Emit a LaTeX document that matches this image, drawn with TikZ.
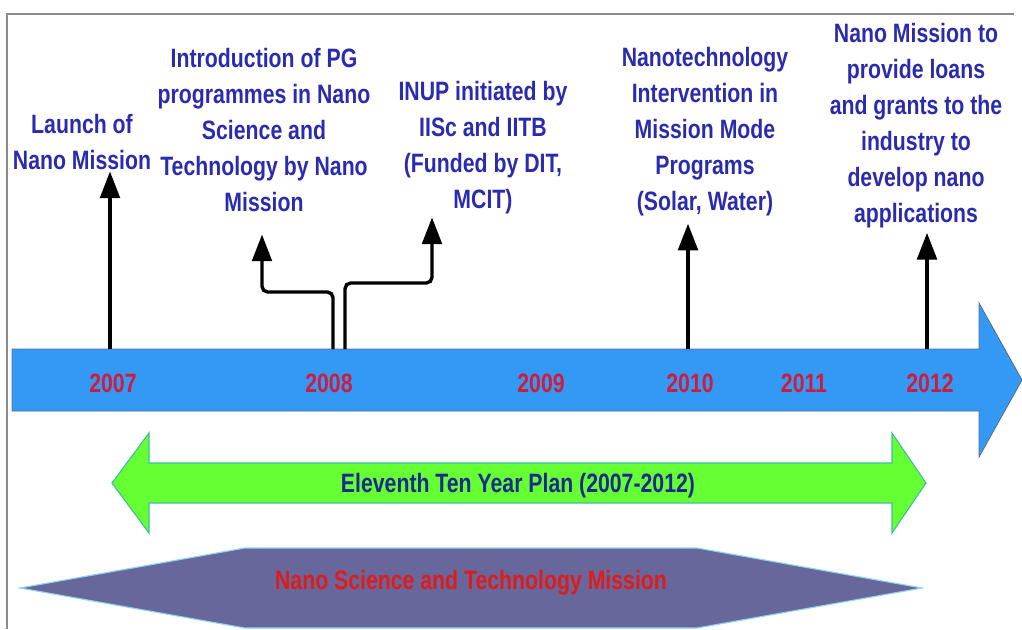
\documentclass[tikz,border=0pt]{standalone}
\usepackage{fontspec}
\setmainfont{Liberation Sans}[FakeStretch=0.8]
\usetikzlibrary{arrows.meta}
\definecolor{axisfill}{HTML}{3399F5}
\definecolor{axisstroke}{HTML}{5A6E86}
\definecolor{yearcolor}{HTML}{D01C3C}
\definecolor{eventcolor}{HTML}{2B2BB0}
\definecolor{planfill}{HTML}{66FF33}
\definecolor{planstroke}{HTML}{3FBFA0}
\definecolor{plantext}{HTML}{1C2A8C}
\definecolor{missionfill}{HTML}{67679C}
\definecolor{missionstroke}{HTML}{8FD3F0}
\definecolor{missiontext}{HTML}{E01B1B}
\definecolor{framecolor}{HTML}{8A8A8A}

\begin{document}
\begin{tikzpicture}[>={Triangle[width=14pt,length=19pt]},
  every node/.style={align=center},
  event/.style={text=eventcolor, inner sep=1pt,
    font=\fontsize{18.9}{25.6}\selectfont\bfseries},
  year/.style={text=yearcolor,
    font=\fontsize{18.9}{25.6}\selectfont\bfseries},
  riser/.style={->, line width=2.4pt, rounded corners=4pt}]

%%=== COORDINATE PLAN (cm) ===========================================
%%  Canvas 25.55 x 15.725, origin top-left, y grows downward (negative)
%%  Time axis body: y = -8.725 .. -10.275, head base x = 24.475
%%  Plan arrow: y-centre -12.075, tips at x = 2.8 and 23.15
%%  Mission band: y-centre -14.7, half-height 1.0
%%====================================================================
\useasboundingbox (0,0) rectangle (25.55,-15.725);

%% --- Frame (top and left edge only) --------------------------------
\draw[framecolor, line width=1pt] (0.175,-15.725) -- (0.175,-0.35) -- (25.35,-0.35);

%% --- Time axis ------------------------------------------------------
\draw[fill=axisfill, draw=axisstroke, line width=0.6pt]
  (0.3,-8.725) -- (24.475,-8.725) -- (24.475,-7.575) -- (25.55,-9.5)
  -- (24.475,-11.425) -- (24.475,-10.275) -- (0.3,-10.275) -- cycle;

\node[year] (y2007) at ( 2.825,-9.575) {2007};
\node[year] (y2008) at ( 8.225,-9.575) {2008};
\node[year] (y2009) at (13.525,-9.575) {2009};
\node[year] (y2010) at (17.25, -9.575) {2010};
\node[year] (y2011) at (20.1,  -9.575) {2011};
\node[year] (y2012) at (23.25, -9.575) {2012};

%% --- Milestone texts -----------------------------------------------
\node[event] (launch) at ( 2.05,-3.55)
  {Launch of\\Nano Mission};
\node[event] (pg) at ( 6.6,-3.25)
  {Introduction of PG\\programmes in Nano\\Science and\\Technology by Nano\\Mission};
\node[event] (inup) at (12.075,-3.7)
  {INUP initiated by\\IISc and IITB\\(Funded by DIT,\\MCIT)};
\node[event] (mmode) at (17.625,-3.3)
  {Nanotechnology\\Intervention in\\Mission Mode\\Programs\\(Solar, Water)};
\node[event] (loans) at (22.9,-3.15)
  {Nano Mission to\\provide loans\\and grants to the\\industry to\\develop nano\\applications};

%% --- Risers from the axis ------------------------------------------
%% feet on the top edge of the axis body (y = -8.725)
\coordinate (b2007)  at ( 2.75, -8.725);
\coordinate (b2008l) at ( 8.325,-8.725);
\coordinate (b2008r) at ( 8.625,-8.725);
\coordinate (b2010)  at (17.2,  -8.725);
\coordinate (b2012)  at (23.175,-8.725);
%% elbows of the split 2008 riser
\coordinate (j2008) at ( 6.55,-7.3);
\coordinate (k2008) at (10.8, -7.075);

\draw[riser] (b2007) -- (b2007 |- launch.south);
\draw[riser, shorten >=15pt] (b2008l) |- (j2008) -- (j2008 |- pg.south);
\draw[riser, shorten >=1pt]  (b2008r) |- (k2008) -- (k2008 |- inup.south);
\draw[riser, shorten >=4pt]  (b2010) -- (b2010 |- mmode.south);
\draw[riser, shorten >=2pt]  (b2012) -- (b2012 |- loans.south);

%% --- Eleventh plan double arrow ------------------------------------
\draw[fill=planfill, draw=planstroke, line width=0.8pt]
  (2.8,-12.075) -- (3.725,-10.825) -- (3.725,-11.575) -- (22.3,-11.575)
  -- (22.3,-10.825) -- (23.15,-12.075) -- (22.3,-13.325) -- (22.3,-12.575)
  -- (3.725,-12.575) -- (3.725,-13.325) -- cycle;
\node[text=plantext, font=\fontsize{18.9}{25.6}\selectfont\bfseries]
  (plan) at (12.95,-12.15) {Eleventh Ten Year Plan (2007-2012)};

%% --- Mission band --------------------------------------------------
\draw[fill=missionfill, draw=missionstroke, line width=0.8pt]
  (0.5,-14.7) -- (6.125,-13.7) -- (17.425,-13.7) -- (23.05,-14.7)
  -- (17.425,-15.7) -- (6.125,-15.7) -- cycle;
\node[text=missiontext, font=\fontsize{18.9}{25.6}\selectfont\bfseries]
  (mission) at (11.775,-14.575) {Nano Science and Technology Mission};

\end{tikzpicture}
\end{document}
